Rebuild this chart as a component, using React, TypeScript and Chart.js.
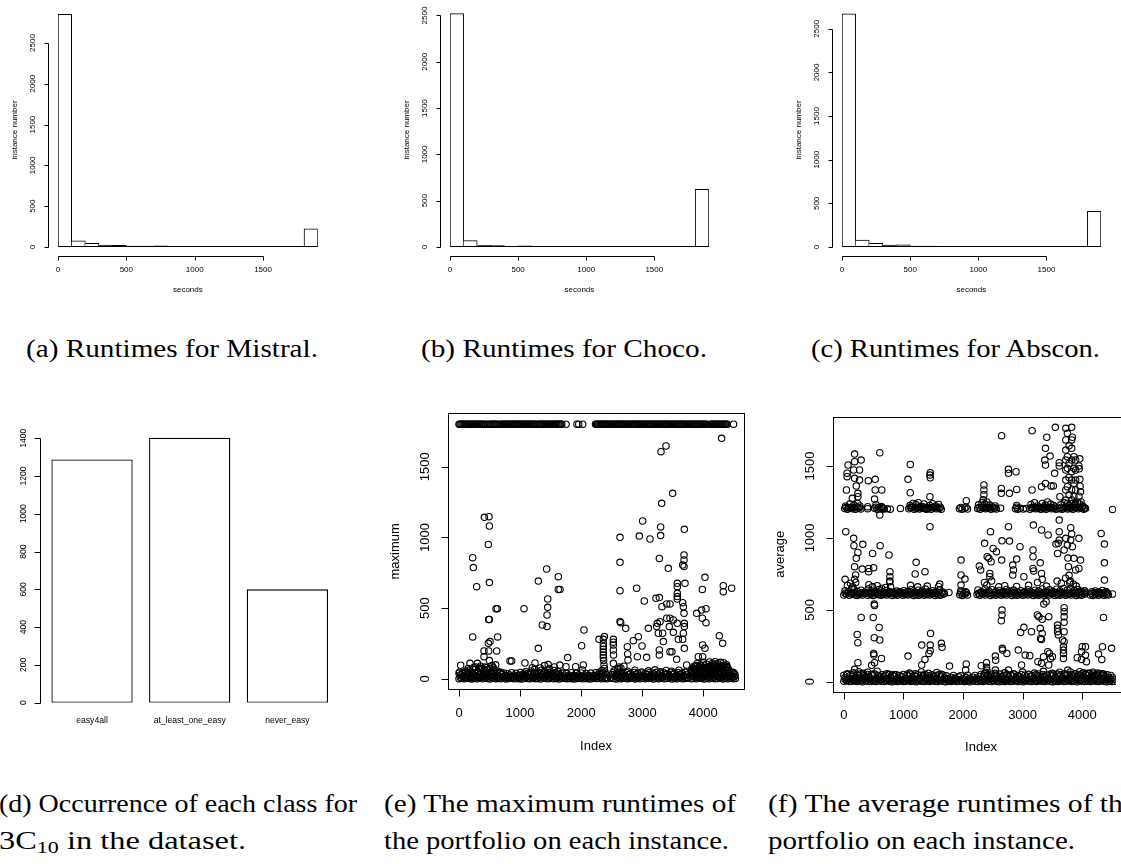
import React, { useEffect, useLayoutEffect, useRef } from 'react';
import { Chart, registerables } from 'chart.js';

Chart.register(...registerables);

const SANS = '"Liberation Sans", Arial, Helvetica, sans-serif';
const SERIF = '"Liberation Serif", "Times New Roman", serif';

// ---------------- data: histograms ----------------
const binStarts = [0, 100, 200, 300, 400, 500, 600, 700, 800, 900, 1000, 1100, 1200, 1300, 1400, 1500, 1600, 1700, 1800];
const BIN_WIDTH = 100;
const mistralCounts = [2850, 75, 44, 22, 19, 10, 10, 14, 8, 8, 4, 5, 4, 4, 5, 2, 1, 4, 224];
const chocoCounts = [2520, 68, 18, 15, 8, 12, 7, 4, 4, 4, 4, 4, 0, 0, 0, 0, 0, 0, 623];
const absconCounts = [2670, 80, 42, 22, 25, 10, 10, 6, 5, 5, 4, 3, 5, 5, 1, 4, 4, 2, 410];
const histYTicks = [0, 500, 1000, 1500, 2000, 2500];
const histXTicks = [0, 500, 1000, 1500];

// ---------------- data: class bar chart ----------------
const classLabels = ['easy4all', 'at_least_one_easy', 'never_easy'];
const classCounts = [1288, 1403, 600];
const classYTicks = [0, 200, 400, 600, 800, 1000, 1200, 1400];

// ---------------- data: scatter plots ----------------
const scatterXTicks = [0, 1000, 2000, 3000, 4000];
const scatterYTicks = [0, 500, 1000, 1500];
const TIMEOUT = 1800;

// (e) maximum runtime: instances that hit the 1800 s timeout
const maxTimeoutIdx = [
  0, 15, 32, 50, 66, 84, 100, 118, 135, 152, 170, 186, 204, 220, 238, 255, 272, 290, 306, 324, 340, 358, 375, 392,
  410, 440, 470, 500, 520, 540, 556, 574, 590, 608, 625, 660, 690, 710, 728, 745, 762, 780, 796, 814, 830, 848, 865,
  882, 900, 916, 934, 950, 968, 985, 1002, 1020, 1036, 1054, 1070, 1088, 1105, 1122, 1140, 1156, 1174, 1190, 1208,
  1225, 1242, 1260, 1290, 1310, 1328, 1345, 1362, 1380, 1396, 1414, 1430, 1448, 1465, 1482, 1500, 1516, 1534, 1550,
  1568, 1585, 1602, 1620, 1636, 1654, 1670, 1682, 1752, 1930, 1960, 2025,
  2235, 2252, 2270, 2288, 2305, 2322, 2340, 2358, 2375, 2392, 2410, 2428, 2445, 2462, 2480, 2498, 2515, 2532, 2550,
  2568, 2585, 2602, 2620, 2638, 2655, 2672, 2690, 2708, 2725, 2742, 2760, 2778, 2795, 2812, 2830, 2848, 2865, 2882,
  2900, 2918, 2935, 2952, 2970, 2988, 3005, 3022, 3040, 3058, 3075, 3092, 3110, 3128, 3145, 3162, 3180, 3198, 3215,
  3232, 3250, 3268, 3285, 3302, 3320, 3338, 3355, 3372, 3390, 3408, 3425, 3442, 3460, 3478, 3495, 3512, 3530, 3548,
  3565, 3582, 3600, 3618, 3635, 3652, 3670, 3688, 3705, 3722, 3740, 3758, 3775, 3792, 3810, 3828, 3845, 3862, 3880,
  3898, 3915, 3932, 3950, 3968, 3985, 4002, 4020, 4038, 4055, 4115, 4132, 4150, 4168, 4185, 4202, 4220, 4238, 4255,
  4272, 4290, 4308, 4325, 4342, 4360, 4378, 4392, 4495,
];
// (e) low band (flat x,y pairs)
const maxLowA = [
  0, 2, 40, 5, 85, 1, 125, 6, 170, 3, 210, 0, 255, 4, 300, 2, 340, 7, 385, 1, 425, 5, 470, 3, 510, 0, 555, 6, 600, 2,
  640, 4, 685, 1, 730, 5, 770, 0, 815, 3, 860, 6, 900, 1, 945, 4, 990, 2, 1030, 0, 1075, 5, 1120, 3, 1160, 1, 1205, 6,
  1250, 2, 1290, 4, 1335, 0, 1380, 5, 1420, 3, 1465, 1, 1510, 6, 1550, 2, 1595, 4, 1640, 0, 1680, 5, 1725, 3, 1770, 1,
  1810, 4, 1855, 2, 1900, 0, 1945, 5, 1985, 3, 2030, 1, 2075, 4, 2115, 2, 2160, 0, 2205, 5, 2250, 3, 2290, 6, 2335, 2,
  2380, 4, 2420, 1, 2490, 5, 2530, 3, 2575, 0, 2620, 4, 2660, 2, 2705, 6, 2750, 1, 2790, 3, 2835, 5, 2880, 0, 2920, 4,
  2965, 2, 3010, 6, 3050, 1, 3095, 3, 3140, 5, 3180, 0, 3225, 4, 3270, 2, 3310, 6, 3355, 1, 3400, 3, 3440, 5, 3485, 0,
  3530, 4, 3570, 2, 3615, 6, 3660, 1, 3700, 3, 3740, 5, 3800, 2, 3840, 4, 3885, 1, 3930, 5, 3970, 3, 4015, 0, 4060, 4,
  4100, 2, 4145, 6, 4190, 1, 4230, 3, 4275, 5, 4320, 0, 4360, 4, 4405, 2, 4450, 6, 4490, 1, 4525, 3,
];
const maxLowB = [
  20, 28, 75, 22, 130, 33, 180, 25, 235, 30, 285, 21, 335, 34, 390, 26, 440, 31, 495, 23, 545, 35, 600, 27, 650, 22,
  700, 30, 760, 24, 830, 29, 900, 21, 970, 26, 1040, 31, 1100, 24, 1150, 33, 1210, 27, 1260, 35, 1310, 22, 1360, 30,
  1410, 25, 1460, 33, 1510, 28, 1560, 23, 1610, 31, 1660, 26, 1720, 21, 1800, 27, 1880, 24, 1960, 29, 2040, 22,
  2120, 26, 2200, 23, 2270, 30, 2320, 35, 2360, 40, 2400, 33, 2510, 31, 2560, 26, 2610, 34, 2660, 28, 2720, 23,
  2780, 30, 2840, 25, 2900, 33, 2960, 27, 3020, 22, 3080, 31, 3140, 26, 3200, 34, 3260, 28, 3320, 23, 3380, 31,
  3440, 25, 3500, 33, 3560, 27, 3620, 30, 3680, 24, 3730, 32, 3820, 30, 3870, 25, 3920, 34, 3970, 28, 4020, 33,
  4070, 26, 4120, 31, 4170, 35, 4220, 27, 4270, 32, 4320, 26, 4370, 33, 4420, 27, 4480, 22, 4520, 30,
];
const maxLowC = [
  10, 50, 110, 55, 160, 62, 205, 48, 260, 66, 310, 52, 360, 70, 410, 58, 460, 64, 520, 49, 570, 68, 630, 55, 680, 47,
  1090, 52, 1180, 57, 1240, 68, 1300, 50, 1350, 62, 1400, 55, 1450, 67, 1500, 48, 1560, 60, 1620, 53, 2340, 60,
  2380, 75, 2540, 58, 2600, 66, 2650, 52, 2760, 55, 2880, 62, 2990, 50, 3100, 58, 3210, 65, 3300, 52, 3390, 60,
  3480, 55, 3600, 62, 3700, 50, 3820, 55, 3860, 66, 3910, 48, 3960, 62, 4010, 55, 4060, 68, 4110, 60, 4150, 50,
  4200, 65, 4250, 57, 4300, 70, 4350, 52, 4400, 63, 4500, 45,
];
const maxLowD = [
  27, 97, 180, 111, 240, 82, 300, 111, 350, 90, 420, 85, 540, 95, 600, 100, 835, 127, 862, 127, 1080, 113, 1244, 113,
  1400, 95, 1460, 102, 1650, 98, 1752, 87, 1910, 87, 2035, 99, 2374, 99, 2527, 111, 2620, 85, 2700, 90, 3563, 139,
  3727, 99, 3830, 80, 3850, 90, 3880, 95, 3900, 110, 3930, 85, 3950, 100, 3980, 75, 4000, 118, 4030, 92, 4050, 105,
  4080, 85, 4100, 120, 4130, 95, 4150, 112, 4180, 80, 4191, 122, 4230, 108, 4240, 90, 4280, 118, 4290, 85,
  4330, 115, 4340, 95, 4380, 100, 4390, 80, 4470, 50, 4491, 40,
];
const maxLowE = [
  20, 12, 62, 15, 105, 10, 148, 17, 190, 13, 232, 11, 278, 16, 320, 14, 362, 10, 405, 18, 448, 12, 490, 15, 532, 11,
  578, 17, 620, 13, 662, 10, 708, 16, 750, 14, 792, 12, 838, 18, 880, 11, 922, 15, 968, 13, 1010, 10, 1052, 17,
  1098, 12, 1140, 16, 1182, 14, 1228, 11, 1270, 18, 1312, 13, 1358, 15, 1400, 10, 1442, 17, 1488, 12, 1530, 16,
  1572, 14, 1618, 11, 1660, 15, 1702, 13, 1748, 10, 1790, 16, 1832, 12, 1878, 14, 1920, 11, 1962, 17, 2008, 13,
  2052, 15, 2095, 10, 2138, 16, 2182, 12, 2228, 14, 2270, 18, 2312, 13, 2358, 16, 2400, 11, 2505, 14, 2552, 17,
  2598, 12, 2640, 15, 2682, 11, 2728, 16, 2770, 13, 2812, 18, 2858, 10, 2900, 15, 2942, 12, 2988, 17, 3030, 14,
  3072, 11, 3118, 16, 3160, 13, 3202, 18, 3248, 10, 3290, 15, 3332, 12, 3378, 17, 3420, 14, 3462, 11, 3508, 16,
  3550, 13, 3592, 18, 3638, 10, 3680, 15, 3722, 12, 3820, 17, 3862, 14, 3908, 11, 3950, 16, 3992, 13, 4038, 18,
  4080, 10, 4122, 15, 4168, 12, 4210, 17, 4252, 14, 4298, 11, 4340, 16, 4382, 13, 4428, 18, 4470, 10, 4510, 15,
];
const maxLowF = [
  0, 42, 55, 40, 110, 46, 160, 38, 215, 44, 265, 41, 320, 47, 370, 39, 420, 45, 470, 42, 520, 48, 575, 40, 625, 44,
  675, 38, 730, 43, 790, 39, 860, 44, 935, 40, 1005, 46, 1070, 41, 1125, 38, 1180, 45, 1235, 42, 1285, 47, 1335, 39,
  1385, 44, 1435, 41, 1485, 46, 1535, 40, 1585, 43, 1635, 38, 1690, 42, 1760, 39, 1840, 44, 1920, 40, 2000, 43,
  2080, 38, 2160, 42, 2240, 45, 2300, 48, 2345, 44, 2390, 50, 2520, 45, 2585, 40, 2635, 47, 2690, 41, 2750, 44,
  2810, 39, 2870, 46, 2930, 41, 2990, 43, 3050, 38, 3110, 45, 3170, 40, 3230, 47, 3290, 42, 3350, 44, 3410, 39,
  3470, 46, 3530, 41, 3590, 44, 3650, 40, 3710, 46, 3800, 44, 3845, 40, 3895, 47, 3945, 42, 3995, 48, 4045, 41,
  4095, 46, 4145, 43, 4195, 49, 4245, 42, 4295, 47, 4345, 41, 4395, 45, 4445, 38, 4500, 42,
];
const maxLowG = [
  3810, 65, 3845, 72, 3870, 60, 3905, 78, 3940, 66, 3965, 90, 3995, 70, 4020, 80, 4045, 62, 4070, 75, 4095, 88,
  4120, 70, 4140, 82, 4165, 65, 4190, 100, 4210, 75, 4235, 68, 4260, 85, 4285, 72, 4310, 95, 4335, 78, 4360, 66,
  4385, 88, 4410, 70, 150, 75, 220, 70, 270, 85, 330, 78, 390, 72, 450, 80, 500, 75, 560, 82, 1200, 80, 1330, 78,
  1480, 75, 1560, 85, 2600, 75, 2650, 78,
];
const maxSpread = [
  415, 1142, 491, 1147, 497, 1081, 480, 951, 224, 857, 235, 787, 289, 652, 497, 681, 606, 497, 628, 497, 486, 421,
  497, 421, 480, 252, 508, 264, 224, 297, 633, 297, 617, 198, 409, 198, 486, 198, 409, 158, 497, 130, 1064, 497,
  1299, 692, 1299, 217, 1364, 382, 1441, 370, 1441, 452, 1452, 506, 1452, 565, 1435, 777, 1626, 723, 1626, 633,
  1653, 633, 1779, 151, 2008, 235, 2046, 346, 2019, 64, 2292, 280, 2363, 280, 2363, 250, 2363, 230, 2363, 210,
  2363, 190, 2363, 170, 2363, 150, 2368, 130, 2380, 300, 2527, 280, 2527, 260, 2527, 240, 2527, 205, 2530, 170,
  2636, 1001, 2636, 824, 2636, 624, 2636, 407, 2647, 398, 2729, 358, 2756, 228, 2761, 177, 2767, 134, 2854, 271,
  2909, 641, 2936, 299, 2920, 158, 2952, 1010, 3007, 1116, 2996, 233, 3034, 551, 3072, 153, 3100, 358, 3127, 989,
  3225, 570, 3280, 575, 3236, 370, 3263, 323, 3247, 393, 3291, 405, 3280, 852, 3301, 1013, 3301, 1074, 3307, 1606,
  3389, 1646, 3318, 1241, 3323, 511, 3334, 323, 3345, 264, 3280, 205, 3280, 170, 3427, 782, 3400, 530, 3454, 530,
  3400, 429, 3454, 429, 3443, 370, 3454, 193, 3487, 193, 3498, 1312, 3509, 417, 3509, 330, 3574, 676, 3574, 652,
  3574, 605, 3574, 582, 3574, 565, 3574, 393, 3591, 280, 3662, 539, 3673, 511, 3684, 464, 3662, 280, 3689, 1057,
  3684, 876, 3684, 841, 3684, 794, 3662, 805, 3700, 676, 3689, 393, 3689, 370, 3673, 323, 3689, 217, 3891, 464,
  3918, 158, 3984, 633, 3973, 487, 3984, 429, 3989, 240, 4027, 718, 4044, 497, 4044, 398, 4027, 217, 3989, 158,
  4300, 1700, 4327, 617, 4327, 659, 4262, 306, 4316, 252, 4464, 641,
];

// (f) average runtime (flat x,y pairs)
const avgLowA = [
  0, 3, 45, 6, 90, 1, 135, 4, 180, 7, 225, 2, 270, 5, 315, 0, 360, 6, 405, 3, 450, 1, 495, 5, 540, 2, 585, 7, 630, 4,
  675, 1, 720, 6, 765, 3, 810, 0, 855, 5, 900, 2, 945, 6, 990, 1, 1035, 4, 1080, 7, 1125, 2, 1170, 5, 1215, 0, 1260, 6,
  1305, 3, 1350, 1, 1395, 5, 1440, 2, 1485, 7, 1530, 4, 1575, 1, 1620, 6, 1665, 3, 1710, 0, 1755, 5, 1800, 2, 1845, 6,
  1890, 1, 1935, 4, 1980, 7, 2025, 2, 2070, 5, 2115, 0, 2160, 6, 2205, 3, 2250, 1, 2295, 5, 2340, 2, 2385, 7, 2430, 4,
  2475, 1, 2520, 6, 2565, 3, 2610, 0, 2655, 5, 2700, 2, 2745, 6, 2790, 1, 2835, 4, 2880, 7, 2925, 2, 2970, 5, 3015, 0,
  3060, 6, 3105, 3, 3150, 1, 3195, 5, 3240, 2, 3285, 7, 3330, 4, 3375, 1, 3420, 6, 3465, 3, 3510, 0, 3555, 5, 3600, 2,
  3645, 6, 3690, 1, 3735, 4, 3780, 7, 3825, 2, 3870, 5, 3915, 0, 3960, 6, 4005, 3, 4050, 1, 4095, 5, 4140, 2, 4185, 7,
  4230, 4, 4275, 1, 4320, 6, 4365, 3, 4410, 0, 4455, 5, 4500, 2, 4540, 4,
];
const avgLowB = [
  20, 30, 80, 24, 140, 38, 200, 27, 255, 42, 310, 22, 370, 35, 430, 28, 490, 44, 550, 25, 610, 33, 670, 40, 730, 23,
  790, 31, 850, 37, 910, 26, 970, 34, 1030, 21, 1090, 39, 1150, 29, 1210, 36, 1270, 24, 1330, 41, 1390, 30, 1450, 27,
  1510, 38, 1570, 23, 1630, 33, 1690, 28, 1750, 22, 1810, 30, 1870, 25, 1930, 34, 1990, 21, 2050, 29, 2110, 24,
  2170, 31, 2230, 26, 2290, 37, 2350, 44, 2410, 39, 2470, 30, 2530, 42, 2590, 28, 2650, 36, 2710, 24, 2770, 33,
  2830, 40, 2890, 27, 2950, 35, 3010, 22, 3070, 31, 3130, 38, 3190, 26, 3250, 43, 3310, 29, 3370, 36, 3430, 24,
  3490, 41, 3550, 30, 3610, 37, 3670, 27, 3730, 44, 3790, 33, 3850, 40, 3910, 35, 3970, 45, 4030, 38, 4090, 42,
  4150, 36, 4210, 44, 4270, 39, 4330, 41, 4390, 33, 4450, 26, 4510, 30,
];
const avgLowC = [
  60, 55, 160, 62, 250, 70, 330, 58, 400, 66, 480, 52, 560, 73, 720, 55, 840, 50, 1100, 60, 1200, 55, 1300, 68,
  1420, 58, 1560, 64, 1640, 52, 2380, 65, 2540, 58, 2700, 62, 2850, 55, 3000, 67, 3200, 60, 3350, 72, 3500, 58,
  3620, 66, 3700, 54, 3800, 68, 3880, 55, 3960, 70, 4020, 62, 4100, 58, 4180, 66, 4260, 60, 4340, 55,
];
const avgLowD = [
  22, 15, 68, 12, 112, 18, 158, 14, 202, 11, 248, 17, 292, 13, 338, 19, 382, 12, 428, 16, 472, 14, 518, 11, 562, 18,
  608, 13, 652, 16, 698, 12, 742, 19, 788, 14, 832, 11, 878, 17, 922, 13, 968, 16, 1012, 12, 1058, 18, 1102, 14,
  1148, 11, 1192, 17, 1238, 13, 1282, 19, 1328, 12, 1372, 16, 1418, 14, 1462, 11, 1508, 18, 1552, 13, 1598, 16,
  1642, 12, 1688, 19, 1732, 14, 1778, 11, 1822, 17, 1868, 13, 1912, 16, 1958, 12, 2002, 18, 2048, 14, 2092, 11,
  2138, 17, 2182, 13, 2228, 19, 2272, 12, 2318, 16, 2362, 14, 2408, 11, 2452, 18, 2498, 13, 2542, 16, 2588, 12,
  2632, 19, 2678, 14, 2722, 11, 2768, 17, 2812, 13, 2858, 16, 2902, 12, 2948, 18, 2992, 14, 3038, 11, 3082, 17,
  3128, 13, 3172, 19, 3218, 12, 3262, 16, 3308, 14, 3352, 11, 3398, 18, 3442, 13, 3488, 16, 3532, 12, 3578, 19,
  3622, 14, 3668, 11, 3712, 17, 3758, 13, 3802, 16, 3848, 12, 3892, 18, 3938, 14, 3982, 11, 4028, 17, 4072, 13,
  4118, 19, 4162, 12, 4208, 16, 4252, 14, 4298, 11, 4342, 18, 4388, 13, 4432, 16, 4478, 12, 4522, 17,
];
const avgLowE = [
  0, 45, 50, 50, 105, 42, 165, 52, 225, 47, 285, 55, 345, 44, 405, 50, 460, 46, 520, 53, 580, 43, 640, 49, 700, 45,
  760, 51, 820, 42, 880, 48, 940, 44, 1000, 50, 1060, 46, 1120, 53, 1180, 43, 1240, 49, 1300, 45, 1360, 51, 1420, 42,
  1480, 48, 1540, 44, 1600, 50, 1660, 46, 1720, 41, 1840, 44, 1960, 42, 2080, 45, 2200, 43, 2300, 50, 2360, 55,
  2420, 48, 2480, 52, 2560, 47, 2620, 53, 2680, 44, 2740, 50, 2800, 46, 2860, 52, 2920, 43, 2980, 49, 3040, 45,
  3100, 51, 3160, 42, 3220, 48, 3280, 54, 3340, 50, 3400, 46, 3460, 52, 3520, 47, 3580, 53, 3640, 49, 3700, 55,
  3760, 51, 3820, 48, 3880, 54, 3940, 50, 4000, 56, 4060, 52, 4120, 58, 4180, 54, 4240, 50, 4300, 56, 4360, 52,
  4420, 48, 4480, 44,
];
const avgMidA = [
  0, 603, 45, 608, 90, 601, 135, 610, 180, 605, 225, 600, 270, 607, 315, 603, 360, 611, 405, 602, 450, 606, 495, 600,
  540, 609, 585, 604, 630, 601, 675, 607, 720, 603, 765, 610, 810, 600, 855, 605, 900, 602, 945, 608, 990, 601,
  1035, 606, 1080, 603, 1125, 610, 1170, 600, 1215, 605, 1260, 602, 1305, 609, 1350, 601, 1395, 606, 1440, 603,
  1485, 610, 1530, 600, 1575, 605, 1620, 602, 1665, 608, 1945, 604, 1990, 600, 2035, 609, 2075, 603, 2235, 606,
  2280, 601, 2325, 608, 2370, 603, 2415, 610, 2460, 600, 2505, 606, 2550, 602, 2595, 609, 2640, 601, 2685, 606,
  2730, 603, 2775, 610, 2820, 600, 2865, 605, 2910, 602, 2955, 608, 3000, 601, 3045, 606, 3090, 603, 3135, 610,
  3180, 600, 3225, 605, 3270, 602, 3315, 609, 3360, 601, 3405, 606, 3450, 603, 3495, 610, 3540, 600, 3585, 605,
  3630, 602, 3675, 608, 3720, 601, 3765, 606, 3810, 603, 3855, 610, 3900, 600, 3945, 605, 3990, 602, 4035, 608,
  4135, 603, 4180, 600, 4225, 607, 4270, 602, 4315, 609, 4360, 601, 4405, 606, 4440, 603, 4510, 610,
];
const avgMidB = [
  20, 632, 80, 625, 130, 648, 175, 640, 230, 628, 290, 636, 350, 622, 410, 645, 470, 630, 530, 626, 590, 641, 650, 623,
  710, 634, 770, 628, 830, 621, 890, 630, 950, 624, 1010, 633, 1070, 627, 1130, 640, 1190, 622, 1250, 636, 1310, 629,
  1370, 644, 1430, 625, 1490, 633, 1550, 627, 1610, 640, 1660, 624, 1764, 621, 1960, 630, 2040, 625, 2250, 638,
  2310, 626, 2370, 645, 2430, 630, 2490, 640, 2550, 627, 2610, 635, 2670, 623, 2730, 642, 2790, 629, 2850, 637,
  2910, 624, 2970, 633, 3030, 627, 3090, 640, 3150, 622, 3210, 636, 3270, 630, 3330, 645, 3390, 626, 3450, 639,
  3510, 628, 3570, 643, 3630, 632, 3690, 648, 3750, 637, 3810, 646, 3870, 634, 3930, 641, 3990, 627, 4040, 632,
  4160, 626, 4220, 631, 4280, 624, 4340, 635, 4400, 628,
];
const avgMidC = [
  60, 670, 110, 685, 150, 660, 200, 690, 420, 675, 480, 660, 560, 668, 700, 655, 770, 700, 1120, 670, 1240, 660,
  1400, 665, 1590, 662, 2360, 690, 2400, 672, 2480, 700, 2600, 660, 2700, 668, 2900, 662, 3100, 670, 3250, 690,
  3400, 665, 3580, 700, 3650, 685, 3720, 720, 3800, 700, 3850, 680, 3900, 665,
];
const avgMidD = [
  22, 615, 68, 618, 112, 613, 158, 620, 202, 616, 248, 612, 292, 619, 338, 614, 382, 621, 428, 617, 472, 613, 518, 620,
  562, 615, 608, 618, 652, 612, 698, 619, 742, 614, 788, 621, 832, 616, 878, 613, 922, 620, 968, 615, 1012, 618,
  1058, 612, 1102, 619, 1148, 614, 1192, 621, 1238, 616, 1282, 613, 1328, 620, 1372, 615, 1418, 618, 1462, 612,
  1508, 619, 1552, 614, 1598, 621, 1642, 616, 1688, 613, 1962, 617, 2012, 613, 2058, 620, 2258, 615, 2302, 619,
  2348, 613, 2392, 620, 2438, 616, 2482, 612, 2528, 619, 2572, 614, 2618, 621, 2662, 616, 2708, 613, 2752, 620,
  2798, 615, 2842, 618, 2888, 612, 2932, 619, 2978, 614, 3022, 621, 3068, 616, 3112, 613, 3158, 620, 3202, 615,
  3248, 618, 3292, 612, 3338, 619, 3382, 614, 3428, 621, 3472, 616, 3518, 613, 3562, 620, 3608, 615, 3652, 618,
  3698, 612, 3742, 619, 3788, 614, 3832, 621, 3878, 616, 3922, 613, 3968, 620, 4012, 615, 4050, 618, 4158, 614,
  4202, 620, 4248, 615, 4292, 619, 4338, 613, 4382, 620, 4425, 616,
];
const avgHighA = [
  16, 1205, 60, 1200, 105, 1208, 150, 1202, 195, 1199, 240, 1206, 285, 1201, 400, 1203, 515, 1207, 560, 1200,
  605, 1204, 650, 1209, 675, 1201, 730, 1203, 780, 1200, 950, 1205, 1090, 1202, 1135, 1208, 1180, 1200, 1225, 1205,
  1270, 1201, 1315, 1207, 1360, 1203, 1390, 1199, 1420, 1204, 1465, 1200, 1510, 1208, 1555, 1202, 1600, 1205,
  1635, 1200, 1940, 1203, 1985, 1200, 2030, 1207, 2075, 1201, 2245, 1204, 2290, 1200, 2335, 1208, 2380, 1202,
  2425, 1206, 2470, 1200, 2515, 1205, 2560, 1201, 2630, 1207, 2880, 1203, 2920, 1200, 2960, 1206, 3010, 1201,
  3060, 1204, 3125, 1200, 3170, 1207, 3215, 1202, 3260, 1205, 3305, 1199, 3350, 1204, 3395, 1200, 3440, 1208,
  3485, 1202, 3530, 1205, 3560, 1200, 3620, 1203, 3665, 1200, 3710, 1207, 3755, 1201, 3800, 1205, 3845, 1200,
  3890, 1208, 3935, 1202, 3980, 1206, 4025, 1200, 4055, 1204, 4510, 1198,
];
const avgHighB = [
  30, 1220, 100, 1235, 170, 1228, 230, 1240, 270, 1222, 540, 1230, 630, 1218, 1110, 1225, 1160, 1240, 1210, 1232,
  1250, 1245, 1300, 1220, 1345, 1236, 1440, 1226, 1490, 1238, 1540, 1222, 1590, 1233, 2260, 1230, 2320, 1245,
  2365, 1235, 2400, 1250, 2450, 1228, 2540, 1222, 2900, 1226, 3140, 1232, 3200, 1245, 3250, 1222, 3330, 1240,
  3380, 1228, 3420, 1250, 3470, 1235, 3520, 1226, 3640, 1230, 3700, 1245, 3770, 1225, 3830, 1240, 3870, 1232,
  3920, 1248, 3960, 1236, 4010, 1222,
];
const avgHighC = [
  38, 1212, 82, 1210, 128, 1214, 172, 1211, 218, 1215, 262, 1210, 540, 1213, 585, 1210, 628, 1214, 1112, 1211,
  1158, 1215, 1202, 1210, 1248, 1213, 1292, 1211, 1338, 1215, 1382, 1210, 1442, 1213, 1488, 1211, 1532, 1215,
  1578, 1210, 1620, 1213, 1962, 1212, 2052, 1214, 2268, 1211, 2312, 1215, 2358, 1210, 2402, 1213, 2448, 1211,
  2492, 1215, 2538, 1210, 2900, 1213, 3148, 1211, 3192, 1215, 3238, 1210, 3282, 1213, 3328, 1211, 3372, 1215,
  3418, 1210, 3462, 1213, 3508, 1211, 3545, 1215, 3642, 1212, 3688, 1210, 3732, 1214, 3778, 1211, 3822, 1215,
  3868, 1210, 3912, 1213, 3958, 1211, 4002, 1215, 4040, 1210,
];
const avgSpread = [
  55, 1426, 55, 1450, 71, 1507, 44, 1333, 181, 1583, 181, 1530, 165, 1472, 181, 1414, 209, 1361, 236, 1310, 264, 1402,
  291, 1541, 264, 1472, 236, 1286, 143, 1275, 401, 1217, 412, 1398, 527, 1407, 527, 1333, 516, 1270, 604, 1592,
  637, 1333, 604, 1159, 659, 1205, 1077, 1407, 1115, 1511, 1115, 1314, 1445, 1437, 1450, 1418, 1450, 1453,
  1445, 1286, 2055, 1259, 2351, 1368, 2351, 1333, 2351, 1300, 2340, 1265, 2648, 1711, 2643, 1344, 2643, 1310,
  2763, 1477, 2763, 1450, 2780, 1310, 2890, 1460, 2901, 1337, 3159, 1745, 3159, 1333, 3318, 1356, 3384, 1623,
  3373, 1541, 3384, 1507, 3406, 1700, 3384, 1379, 3461, 1569, 3478, 1361, 3549, 1769, 3516, 1361, 3538, 1449,
  3615, 1523, 3615, 1500, 3626, 1286, 3725, 1762, 3725, 1681, 3725, 1611, 3725, 1541, 3725, 1472, 3725, 1402,
  3725, 1333, 3725, 1263, 3752, 1727, 3752, 1565, 3752, 1484, 3752, 1356, 3752, 1240, 3780, 1640, 3780, 1518,
  3780, 1420, 3780, 1300, 3824, 1769, 3824, 1681, 3824, 1623, 3824, 1541, 3824, 1460, 3824, 1402, 3824, 1333,
  3824, 1263, 3835, 1700, 3862, 1565, 3862, 1484, 3862, 1380, 3862, 1290, 3890, 1541, 3890, 1472, 3890, 1402,
  3890, 1333, 3890, 1240, 3945, 1500, 3961, 1407, 3972, 1321, 3960, 1550, 3950, 1480, 3965, 1360, 3945, 1290,
  3980, 1250,
  33, 1043, 22, 712, 165, 997, 170, 946, 209, 858, 181, 800, 236, 899, 319, 955, 198, 742, 181, 712, 308, 783,
  417, 765, 417, 788, 483, 892, 500, 793, 610, 946, 637, 649, 758, 881, 774, 765, 774, 730, 774, 695, 785, 660,
  1214, 830, 1198, 749, 1362, 765, 1445, 1078, 1610, 679, 1967, 846, 1967, 742, 1967, 672, 2033, 714, 2274, 804,
  2296, 777, 2362, 962, 2406, 869, 2434, 858, 2450, 753, 2450, 730, 2461, 1043, 2472, 834, 2505, 927, 2560, 904,
  2648, 846, 2654, 980, 2763, 1078, 2780, 978, 2835, 811, 2846, 777, 2835, 742, 2901, 853, 2956, 939, 3022, 730,
  3181, 1089, 3175, 916, 3175, 869, 3175, 788, 3186, 770, 3296, 827, 3318, 753, 3329, 712, 3318, 1055, 3428, 1020,
  3560, 957, 3598, 962, 3615, 1043, 3615, 1124, 3615, 985, 3587, 892, 3697, 916, 3725, 997, 3752, 950, 3807, 1071,
  3824, 1027, 3807, 985, 3835, 939, 3862, 858, 3890, 777, 3760, 860, 3770, 800, 3780, 740, 3790, 690, 3945, 997,
  3972, 846, 3945, 788, 4318, 1031, 4373, 957, 4373, 827, 4373, 707,
  291, 447, 494, 447, 511, 540, 516, 530, 593, 377, 604, 290, 511, 306, 500, 197, 505, 185, 225, 329, 236, 271,
  236, 132, 181, 86, 632, 162, 467, 114, 516, 132, 1077, 178, 1307, 116, 1307, 255, 1362, 155, 1456, 336, 1450, 255,
  1450, 216, 1428, 197, 1637, 267, 1648, 239, 1774, 109, 2055, 123, 2044, 81, 2307, 111, 2395, 132, 2395, 100,
  2400, 80, 2543, 178, 2548, 150, 2543, 81, 2654, 498, 2654, 464, 2643, 424, 2659, 232, 2665, 220, 2736, 197,
  2763, 81, 2928, 220, 2983, 116, 2967, 343, 3022, 378, 3044, 185, 3121, 181, 3148, 348, 3247, 464, 3274, 452,
  3296, 371, 3329, 336, 3301, 301, 3318, 294, 3329, 434, 3258, 139, 3318, 128, 3351, 174, 3356, 540, 3395, 556,
  3439, 452, 3423, 209, 3450, 197, 3467, 162, 3500, 174, 3439, 116, 3587, 394, 3587, 371, 3587, 348, 3600, 325,
  3670, 290, 3686, 243, 3686, 220, 3686, 197, 3686, 162, 3697, 515, 3697, 487, 3697, 452, 3697, 413, 3697, 348,
  3697, 278, 3758, 81, 3917, 167, 3989, 155, 3989, 209, 4000, 243, 4055, 243, 4055, 185, 4071, 139, 4274, 192,
  4329, 155, 4340, 243, 4357, 447, 4494, 232,
];

// ---------------- helpers ----------------
const pairs = (flat: number[]) => {
  const out: { x: number; y: number }[] = [];
  for (let i = 0; i + 1 < flat.length; i += 2) out.push({ x: flat[i], y: flat[i + 1] });
  return out;
};
const crisp = (v: number) => Math.round(v) + 0.5;

type RSpec = {
  font: number;
  axisX: number;
  axisY?: number;
  tickLen: number;
  yTicks: number[];
  yLabelX: number;
  xTicks?: number[];
  xLabelY: number;
  catLabels?: string[];
  yTitle?: string;
  yTitleX?: number;
  yTitleY?: number;
  xTitle?: string;
  xTitleX?: number;
  xTitleY?: number;
  box?: boolean;
  boxRightExtra?: number;
  baseline?: [number, number];
};

function rPlugin(spec: RSpec) {
  return {
    id: 'rAxes',
    afterDraw(chart: any) {
      const { ctx, chartArea: ca } = chart;
      const xs = chart.scales.x;
      const ys = chart.scales.y;
      ctx.save();
      ctx.strokeStyle = '#000';
      ctx.fillStyle = '#000';
      ctx.lineWidth = 1;
      ctx.font = `${spec.font}px ${SANS}`;
      const line = (x1: number, y1: number, x2: number, y2: number) => {
        ctx.beginPath();
        ctx.moveTo(x1, y1);
        ctx.lineTo(x2, y2);
        ctx.stroke();
      };
      if (spec.box) {
        const l = crisp(ca.left), t = crisp(ca.top), b = crisp(ca.bottom);
        const r = crisp(ca.right + (spec.boxRightExtra || 0));
        ctx.strokeRect(l, t, r - l, b - t);
      }
      if (spec.baseline) {
        const y = Math.floor(ys.getPixelForValue(0)) - 0.5;
        line(xs.getPixelForValue(spec.baseline[0]), y, xs.getPixelForValue(spec.baseline[1]), y);
      }
      // y axis
      const ax = crisp(spec.axisX);
      const yp = spec.yTicks.map((v) => ys.getPixelForValue(v));
      line(ax, crisp(yp[0]), ax, crisp(yp[yp.length - 1]));
      spec.yTicks.forEach((v, i) => {
        const y = crisp(yp[i]);
        line(ax - spec.tickLen, y, ax, y);
        ctx.save();
        ctx.translate(spec.yLabelX, yp[i]);
        ctx.rotate(-Math.PI / 2);
        ctx.textAlign = 'center';
        ctx.textBaseline = 'middle';
        ctx.fillText(String(v), 0, 0);
        ctx.restore();
      });
      // x axis
      if (spec.xTicks && spec.axisY !== undefined) {
        const ay = crisp(spec.axisY);
        const xp = spec.xTicks.map((v) => xs.getPixelForValue(v));
        line(crisp(xp[0]), ay, crisp(xp[xp.length - 1]), ay);
        ctx.textAlign = 'center';
        ctx.textBaseline = 'middle';
        spec.xTicks.forEach((v, i) => {
          const x = crisp(xp[i]);
          line(x, ay, x, ay + spec.tickLen);
          ctx.fillText(String(v), xp[i], spec.xLabelY);
        });
      }
      if (spec.catLabels) {
        ctx.textAlign = 'center';
        ctx.textBaseline = 'middle';
        spec.catLabels.forEach((lab, i) => {
          ctx.fillText(lab, xs.getPixelForValue(i), spec.xLabelY);
        });
      }
      if (spec.xTitle) {
        ctx.textAlign = 'center';
        ctx.textBaseline = 'middle';
        ctx.fillText(spec.xTitle, spec.xTitleX!, spec.xTitleY!);
      }
      if (spec.yTitle) {
        ctx.save();
        ctx.translate(spec.yTitleX!, spec.yTitleY!);
        ctx.rotate(-Math.PI / 2);
        ctx.textAlign = 'center';
        ctx.textBaseline = 'middle';
        ctx.fillText(spec.yTitle, 0, 0);
        ctx.restore();
      }
      ctx.restore();
    },
  };
}

const baseOptions = (padding: any, scales: any) => ({
  animation: false,
  responsive: false,
  events: [],
  layout: { padding },
  plugins: { legend: { display: false }, tooltip: { enabled: false } },
  scales,
});

function histConfig(counts: number[], yMax: number, padding: any, spec: RSpec) {
  const last = binStarts[binStarts.length - 1] + BIN_WIDTH;
  return {
    type: 'bar',
    data: {
      datasets: [
        {
          data: binStarts.map((s, i) => ({ x: s + BIN_WIDTH / 2, y: counts[i] })),
          backgroundColor: '#ffffff',
          borderColor: '#000000',
          borderSkipped: 'start',
          borderWidth: (c: any) => {
            const i = c.dataIndex;
            const v = counts[i];
            const prev = i > 0 ? counts[i - 1] : -1;
            const next = i < counts.length - 1 ? counts[i + 1] : -1;
            return { top: 1, bottom: 0, left: prev <= v ? 1 : 0, right: next < v ? 1 : 0 };
          },
          barPercentage: 1,
          categoryPercentage: 1,
        },
      ],
    },
    options: baseOptions(padding, {
      x: { type: 'linear', min: binStarts[0], max: last, offset: false, display: false },
      y: { type: 'linear', min: 0, max: yMax, display: false },
    }),
    plugins: [rPlugin({ ...spec, baseline: [binStarts[0], last] })],
  };
}

function scatterConfig(points: { x: number; y: number }[], xr: [number, number], yr: [number, number], padding: any, spec: RSpec) {
  return {
    type: 'scatter',
    data: {
      datasets: [
        {
          data: points,
          pointStyle: 'circle',
          pointRadius: 3.2,
          pointBorderWidth: 1.1,
          pointBorderColor: '#000000',
          pointBackgroundColor: 'rgba(0,0,0,0)',
          showLine: false,
        },
      ],
    },
    options: baseOptions(padding, {
      x: { type: 'linear', min: xr[0], max: xr[1], display: false },
      y: { type: 'linear', min: yr[0], max: yr[1], display: false },
    }),
    plugins: [rPlugin({ ...spec, box: true })],
  };
}

function ChartBox({ left, top, width, height, make }: any) {
  const ref = useRef<HTMLCanvasElement>(null);
  useEffect(() => {
    const chart = new Chart(ref.current as HTMLCanvasElement, make());
    return () => chart.destroy();
  }, []);
  return (
    <div style={{ position: 'absolute', left, top, width, height }}>
      <canvas ref={ref} width={width} height={height} style={{ width, height }} />
    </div>
  );
}

function Caption({ x, cy, w, children }: any) {
  const ref = useRef<HTMLSpanElement>(null);
  useLayoutEffect(() => {
    const el = ref.current;
    if (!el) return;
    el.style.transform = 'none';
    const nat = el.getBoundingClientRect().width;
    if (nat > 0) el.style.transform = `scaleX(${w / nat})`;
  }, [w]);
  return (
    <span
      ref={ref}
      style={{
        position: 'absolute',
        left: x,
        top: cy - 16,
        fontFamily: SERIF,
        fontSize: 25,
        fontWeight: 400,
        lineHeight: '28px',
        whiteSpace: 'nowrap',
        transformOrigin: '0 0',
        color: '#000',
      }}
    >
      {children}
    </span>
  );
}

export default function App() {
  const maxPoints = [
    ...maxTimeoutIdx.map((x) => ({ x, y: TIMEOUT })),
    ...pairs(maxLowA),
    ...pairs(maxLowB),
    ...pairs(maxLowC),
    ...pairs(maxLowD),
    ...pairs(maxLowE),
    ...pairs(maxLowF),
    ...pairs(maxLowG),
    ...pairs(maxSpread),
  ];
  const avgPoints = [
    ...pairs(avgLowA),
    ...pairs(avgLowB),
    ...pairs(avgLowC),
    ...pairs(avgLowD),
    ...pairs(avgLowE),
    ...pairs(avgMidA),
    ...pairs(avgMidB),
    ...pairs(avgMidC),
    ...pairs(avgMidD),
    ...pairs(avgHighA),
    ...pairs(avgHighB),
    ...pairs(avgHighC),
    ...pairs(avgSpread),
  ];

  const histSpec = (axisX: number, dataRight: number): RSpec => ({
    font: 8,
    axisX,
    axisY: 256,
    tickLen: 4,
    yTicks: histYTicks,
    yLabelX: axisX - 15,
    xTicks: histXTicks,
    xLabelY: 270,
    xTitle: 'seconds',
    xTitleX: (axisX + dataRight + 10) / 2,
    xTitleY: 290,
    yTitle: 'instance number',
    yTitleX: axisX - 33,
    yTitleY: 130,
  });

  return (
    <div style={{ position: 'fixed', left: 0, top: 0, width: 1121, height: 864, overflow: 'hidden', background: '#fff' }}>
      <ChartBox
        left={0}
        top={0}
        width={370}
        height={310}
        make={() => histConfig(mistralCounts, 2900, { left: 58, right: 52.3, top: 10.36, bottom: 63 }, histSpec(48, 317.7))}
      />
      <ChartBox
        left={370}
        top={0}
        width={375}
        height={310}
        make={() => histConfig(chocoCounts, 2600, { left: 80, right: 36.2, top: 6.24, bottom: 63 }, histSpec(70, 338.8))}
      />
      <ChartBox
        left={745}
        top={0}
        width={376}
        height={310}
        make={() => histConfig(absconCounts, 2800, { left: 97, right: 20, top: 2.6, bottom: 63 }, histSpec(86.7, 356))}
      />
      <ChartBox
        left={0}
        top={380}
        width={370}
        height={380}
        make={() => ({
          type: 'bar',
          data: {
            labels: classLabels,
            datasets: [
              {
                data: classCounts,
                backgroundColor: '#ffffff',
                borderColor: '#000000',
                borderWidth: 1.3,
                borderSkipped: false,
                barPercentage: 0.832,
                categoryPercentage: 1,
              },
            ],
          },
          options: baseOptions(
            { left: 43.2, right: 33.8, top: 39.35, bottom: 57.3 },
            {
              x: { type: 'category', offset: true, display: false },
              y: { type: 'linear', min: 0, max: 1500, display: false },
            }
          ),
          plugins: [
            rPlugin({
              font: 8.6,
              axisX: 40,
              tickLen: 6,
              yTicks: classYTicks,
              yLabelX: 24,
              xLabelY: 341,
              catLabels: classLabels,
            }),
          ],
        })}
      />
      <ChartBox
        left={380}
        top={380}
        width={375}
        height={390}
        make={() =>
          scatterConfig(maxPoints, [-175.2, 4666], [-72.8, 1877], { left: 68.3, right: 11, top: 33.3, bottom: 80.7 }, {
            font: 13,
            axisX: 68.3,
            axisY: 309.3,
            tickLen: 7,
            yTicks: scatterYTicks,
            yLabelX: 45.3,
            xTicks: scatterXTicks,
            xLabelY: 333.3,
            xTitle: 'Index',
            xTitleX: 216,
            xTitleY: 366.3,
            yTitle: 'maximum',
            yTitleX: 15.3,
            yTitleY: 171.3,
          })
        }
      />
      <ChartBox
        left={760}
        top={380}
        width={361}
        height={390}
        make={() =>
          scatterConfig(avgPoints, [-176.4, 4565.7], [-69.5, 1842.8], { left: 73.3, right: 0, top: 36.7, bottom: 78.3 }, {
            font: 13,
            axisX: 73.3,
            axisY: 311.7,
            tickLen: 7,
            yTicks: scatterYTicks,
            yLabelX: 50.3,
            xTicks: scatterXTicks,
            xLabelY: 335,
            xTitle: 'Index',
            xTitleX: 221,
            xTitleY: 367.7,
            yTitle: 'average',
            yTitleX: 20.3,
            yTitleY: 174.2,
            boxRightExtra: 20,
          })
        }
      />

      <Caption x={26} cy={351} w={292}>(a) Runtimes for Mistral.</Caption>
      <Caption x={421} cy={351} w={286}>(b) Runtimes for Choco.</Caption>
      <Caption x={811} cy={351} w={289}>(c) Runtimes for Abscon.</Caption>

      <Caption x={-1} cy={806} w={358}>(d) Occurrence of each class for</Caption>
      <Caption x={-1} cy={843} w={247}>
        3C<sub style={{ fontSize: 17, verticalAlign: '-4px', lineHeight: 0 }}>10</sub> in the dataset.
      </Caption>
      <Caption x={384} cy={806} w={352}>(e) The maximum runtimes of</Caption>
      <Caption x={384} cy={843} w={345}>the portfolio on each instance.</Caption>
      <Caption x={768} cy={806} w={368}>(f) The average runtimes of the</Caption>
      <Caption x={768} cy={843} w={307}>portfolio on each instance.</Caption>
    </div>
  );
}
